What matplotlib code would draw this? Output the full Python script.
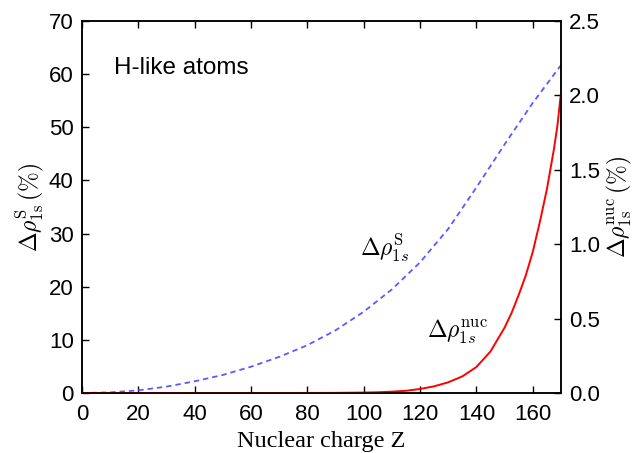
import matplotlib
matplotlib.use("Agg")
import matplotlib.pyplot as plt

plt.rcParams['mathtext.fontset'] = 'cm'
plt.rcParams['font.family'] = ['Liberation Sans', 'DejaVu Sans']

# Blue dashed: Delta rho^S_1s (%) on left axis
z_s = [0, 10, 20, 30, 40, 50, 60, 70, 80, 90, 100, 110, 120, 130, 140, 150, 160, 170]
rho_s = [0.0, 0.12, 0.5, 1.2, 2.2, 3.4, 4.95, 6.8, 9.0, 11.8, 15.3, 19.5, 24.6, 30.9, 38.7, 46.8, 54.6, 61.7]

# Red solid: Delta rho^nuc_1s (%) on right axis
z_n = [0, 20, 40, 60, 80, 90, 100, 105, 110, 115, 120, 125, 130, 135, 140, 145, 150,
       152.5, 155, 157.5, 160, 162.5, 165, 167.5, 168.75, 170]
rho_n = [0.0, 0.0, 0.0, 0.0, 0.0005, 0.001, 0.003, 0.005, 0.009, 0.015, 0.027, 0.045, 0.072,
         0.112, 0.175, 0.28, 0.44, 0.54, 0.66, 0.79, 0.95, 1.15, 1.37, 1.64, 1.80, 2.02]

xticks = [0, 20, 40, 60, 80, 100, 120, 140, 160]
yticks_left = [0, 10, 20, 30, 40, 50, 60, 70]
yticks_right = [0.0, 0.5, 1.0, 1.5, 2.0, 2.5]

fig = plt.figure(figsize=(6.34, 4.53), dpi=100)
ax = fig.add_axes([82/634, 60/453, (561-82)/634, (393-21)/453])
ax2 = ax.twinx()

ax.plot(z_s, rho_s, color='#5a5aff', lw=1.3, ls=(0, (3, 2.2)))
ax2.plot(z_n, rho_n, color='#ff0000', lw=1.4)

ax.set_xlim(0, 170)
ax.set_ylim(0, 70)
ax2.set_ylim(0, 2.5)
ax.set_xticks(xticks)
ax.set_yticks(yticks_left)
ax2.set_yticks(yticks_right)
ax2.set_yticklabels([f"{v:.1f}" for v in yticks_right])

ax.tick_params(axis='x', direction='in', top=True, length=5, width=1, labelsize=16, pad=8)
ax.tick_params(axis='y', direction='in', length=5, width=1, labelsize=16, pad=6)
ax2.tick_params(axis='y', direction='in', length=5, width=1, labelsize=16, pad=6)
for a in (ax, ax2):
    for s in a.spines.values():
        s.set_linewidth(1.1)

ax.set_xlabel("Nuclear charge Z", family='Liberation Serif', fontsize=17.5, labelpad=4)
ax.set_ylabel(r"$\Delta\rho_{\rm 1s}^{\rm S}\,(\%)$", fontsize=17, labelpad=2)
ax2.set_ylabel(r"$\Delta\rho_{\rm 1s}^{\rm nuc}\,(\%)$", fontsize=17, labelpad=3)

ax.text(11.5, 63.2, "H-like atoms", fontsize=17.5, va='top', ha='left')
ax.text(98.5, 25.8, r"$\Delta\rho_{1s}^{\rm S}$", fontsize=17, va='baseline', ha='left')
ax.text(122.5, 10.3, r"$\Delta\rho_{1s}^{\rm nuc}$", fontsize=17, va='baseline', ha='left')

fig.savefig("out.png", dpi=100)
